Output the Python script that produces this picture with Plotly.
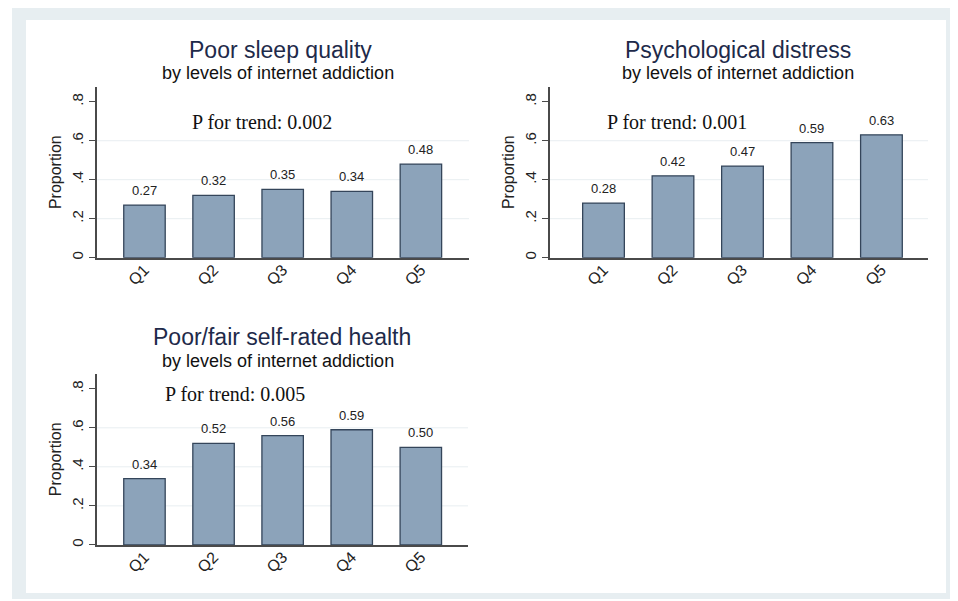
import plotly.graph_objects as go

categories = ["Q1", "Q2", "Q3", "Q4", "Q5"]
sleep_vals = [0.27, 0.32, 0.35, 0.34, 0.48]
distress_vals = [0.28, 0.42, 0.47, 0.59, 0.63]
health_vals = [0.34, 0.52, 0.56, 0.59, 0.50]

panel_titles = ["Poor sleep quality", "Psychological distress", "Poor/fair self-rated health"]
subtitle = "by levels of internet addiction"
trend_texts = ["P for trend: 0.002", "P for trend: 0.001", "P for trend: 0.005"]
ytick_vals = [0, 0.2, 0.4, 0.6, 0.8]
ytick_text = ["0", ".2", ".4", ".6", ".8"]
grid_vals = [0.2, 0.4, 0.6]

# page body has an 8px margin, so the figure is shrunk and offset accordingly
OFF = 8
W, H = 958 - OFF, 601 - OFF
BAR_FILL = "#8ca3ba"
BAR_LINE = "#34455a"
AXIS_COL = "#4a4a4a"
SANS = "Arial, Liberation Sans"

def px(x):
    return (x - OFF) / W

def py(y):
    return 1 - (y - OFF) / H

fig = go.Figure()

panels = [
    dict(vals=sleep_vals, xd=[px(97), px(469)], yd=[py(258.5), py(87)], xr=[-0.687, 4.696],
         title=(280, 50), sub=(278, 73), trend=(262, 122)),
    dict(vals=distress_vals, xd=[px(550), px(928)], yd=[py(258.5), py(87)], xr=[-0.77, 4.67],
         title=(738, 50), sub=(738, 73), trend=(677, 122)),
    dict(vals=health_vals, xd=[px(97), px(468)], yd=[py(546.7), py(375)], xr=[-0.687, 4.683],
         title=(282, 338), sub=(278, 362), trend=(235, 395)),
]

shapes = [
    dict(type="rect", xref="paper", yref="paper", x0=px(12), x1=1, y0=0, y1=py(7),
         fillcolor="#e7eef1", line=dict(width=0), layer="below"),
    dict(type="rect", xref="paper", yref="paper", x0=px(26), x1=px(946), y0=py(595), y1=py(20),
         fillcolor="white", line=dict(width=0), layer="below"),
]
annotations = []

for i, p in enumerate(panels):
    n = i + 1
    xa = "x" if n == 1 else f"x{n}"
    ya = "y" if n == 1 else f"y{n}"
    fig.add_trace(go.Bar(
        x=list(range(len(categories))), y=p["vals"], width=0.6,
        marker=dict(color=BAR_FILL, line=dict(color=BAR_LINE, width=1.3)),
        xaxis=xa, yaxis=ya, showlegend=False, hoverinfo="y",
    ))
    for j, v in enumerate(p["vals"]):
        annotations.append(dict(x=j, y=v, xref=xa, yref=ya, text=f"{v:.2f}", showarrow=False,
                                yanchor="bottom", yshift=5,
                                font=dict(family=SANS, size=13, color="#222222")))
    for g in grid_vals:
        shapes.append(dict(type="line", xref=f"{xa} domain", yref=ya, x0=0, x1=1, y0=g, y1=g,
                           line=dict(color="#e8eef1", width=1), layer="below"))
    axkey = "xaxis" if n == 1 else f"xaxis{n}"
    aykey = "yaxis" if n == 1 else f"yaxis{n}"
    fig.update_layout({
        axkey: dict(domain=p["xd"], range=p["xr"], anchor=ya, tickvals=list(range(len(categories))),
                    ticktext=categories, tickangle=-45, showline=True, linecolor=AXIS_COL, linewidth=1.5,
                    ticks="", showgrid=False, zeroline=False, ticklabelstandoff=-5,
                    tickfont=dict(family=SANS, size=16, color="#222222")),
        aykey: dict(domain=p["yd"], range=[0, 0.877], anchor=xa, tickvals=ytick_vals, ticktext=ytick_text,
                    tickangle=-90, showline=True, linecolor=AXIS_COL, linewidth=1.5, ticks="outside",
                    ticklen=6, tickcolor=AXIS_COL, showgrid=False, zeroline=False,
                    tickfont=dict(family=SANS, size=15, color="#222222"),
                    title=dict(text="Proportion", standoff=4,
                               font=dict(family=SANS, size=16, color="#222222"))),
    })
    annotations.append(dict(x=px(p["title"][0]), y=py(p["title"][1]), xref="paper", yref="paper",
                            text=panel_titles[i], showarrow=False, xanchor="center", yanchor="middle",
                            font=dict(family=SANS, size=23, color="#1e2a4a")))
    annotations.append(dict(x=px(p["sub"][0]), y=py(p["sub"][1]), xref="paper", yref="paper",
                            text=subtitle, showarrow=False, xanchor="center", yanchor="middle",
                            font=dict(family=SANS, size=18, color="#111111")))
    annotations.append(dict(x=px(p["trend"][0]), y=py(p["trend"][1]), xref="paper", yref="paper",
                            text=trend_texts[i], showarrow=False, xanchor="center", yanchor="middle",
                            font=dict(family="Liberation Serif, Times New Roman, serif", size=20,
                                      color="#111111")))

fig.update_layout(
    width=W, height=H, margin=dict(l=0, r=0, t=0, b=0),
    paper_bgcolor="white", plot_bgcolor="rgba(0,0,0,0)",
    shapes=shapes, annotations=annotations, bargap=0.4,
)

fig.write_html("out.html")
